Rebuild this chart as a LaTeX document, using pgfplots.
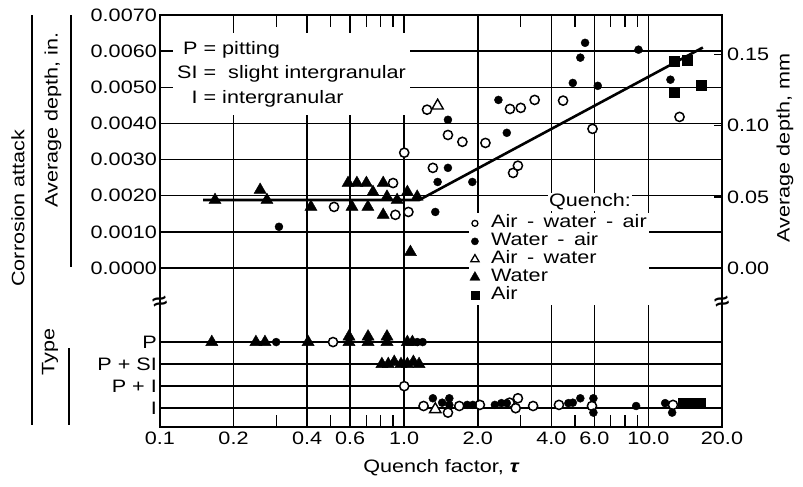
\documentclass[border=0pt]{standalone}
\usepackage{fontspec}
\setmainfont{Liberation Sans}[FakeStretch=1.2]
\usepackage{pgfplots}
\pgfplotsset{compat=1.18}

% marker styles for the five quench sequences
\pgfplotsset{
  awa/.style={only marks, mark=*, mark size=4.6pt, mark options={fill=white, draw=black, line width=1.5pt}},
  wa/.style={only marks, mark=*, mark size=4pt, mark options={fill=black, draw=black}},
  aw/.style={only marks, mark=triangle*, mark size=6.5pt, mark options={fill=white, draw=black, line width=1.4pt}},
  wat/.style={only marks, mark=triangle*, mark size=7pt, mark options={fill=black, draw=black}},
  air/.style={only marks, mark=square*, mark size=5pt, mark options={fill=black, draw=black}},
  % one centred mark in a cell of fixed width
  keymark/.style={legend image code/.code={\path (-5pt,0pt) (5pt,0pt); \draw[##1] plot coordinates {(0pt,0pt)};}},
  % lower panel: type index t (0 = P, 1 = P + SI, 2 = P + I, 3 = I) mapped to its row
  table/typerow/.style={x=tau, y expr={-0.00205-0.00061*\thisrow{t}}},
}
% dash with wide spacing, as in the key
\newcommand\dsh{\hspace{3.5pt} - \hspace{3.5pt}}

\begin{document}
\begin{tikzpicture}[font=\fontsize{18}{22}\selectfont]
\useasboundingbox (-160pt,-60pt) rectangle (643pt,427pt);
\begin{axis}[
  scale only axis, width=562pt, height=412pt,
  xmode=log, xmin=0.1, xmax=20, ymin=-0.0044, ymax=0.0070,
  clip=false, scaled ticks=false,
  axis line style={line width=1.8pt},
  xtick={0.1,0.2,0.4,0.6,1,2,4,6,10,20},
  xticklabels={0.1,0.2,0.4,0.6,1.0,2.0,4.0,6.0,10.0,20.0},
  minor xtick={0.3,0.5,0.7,0.8,0.9,3,5,7,8,9},
  ytick={-0.00388,-0.00327,-0.00266,-0.00205,0,0.001,0.002,0.003,0.004,0.005,0.006,0.007},
  yticklabels={I,P + I,P + SI,P,0.0000,0.0010,0.0020,0.0030,0.0040,0.0050,0.0060,0.0070},
  grid=major,
  grid style={line width=1.5pt, black},
  major tick length=0pt, minor tick length=12pt,
  tick align=inside, tick pos=both,
  minor tick style={line width=1.4pt, black},
  yticklabel style={inner xsep=3pt},
  xticklabel style={inner ysep=5pt},
  legend style={at={(0.549,0.519)}, anchor=north west, draw=none, fill=white,
    inner sep=1pt, row sep=0pt, column sep=10pt, legend cell align=left,
    font=\fontsize{18}{22}\selectfont,
    nodes={inner sep=1pt, text height=12.5pt, text depth=3.5pt}},
]

% trend of average depth
\addplot[line width=2.6pt, no marks, forget plot] coordinates {(0.15,0.00188) (1.15,0.00188) (16.7,0.0061)};

% ---------------- average depth, in. ----------------
\addplot[awa, forget plot] table[x=tau, y=d] {
tau d
0.516 0.00169
0.90 0.00235
0.92 0.00147
1.00 0.00319
1.04 0.00155
1.24 0.00438
1.31 0.00277
1.51 0.00368
1.73 0.00349
2.15 0.00346
2.71 0.00440
2.79 0.00263
2.92 0.00283
3.00 0.00443
3.42 0.00465
4.47 0.00463
5.90 0.00385
13.4 0.00418
};
\addplot[wa, forget plot] table[x=tau, y=d] {
tau d
0.307 0.00114
1.34 0.00155
1.37 0.00238
1.51 0.00410
1.51 0.00277
1.90 0.00238
2.43 0.00465
2.63 0.00374
4.90 0.00512
5.26 0.00582
5.50 0.00623
6.20 0.00504
9.10 0.00604
12.3 0.00521
};
\addplot[aw, forget plot] table[x=tau, y=d] {
tau d
1.37 0.00449
};
\addplot[wat, forget plot] table[x=tau, y=d] {
tau d
0.168 0.00188
0.257 0.00216
0.274 0.00188
0.415 0.00169
0.589 0.00235
0.611 0.00169
0.640 0.00235
0.700 0.00235
0.710 0.00169
0.745 0.00210
0.820 0.00235
0.820 0.00147
0.850 0.00197
0.935 0.00188
1.03 0.00210
1.13 0.00197
1.06 0.00044
};
\addplot[air, forget plot] table[x=tau, y=d] {
tau d
12.7 0.00573
14.4 0.00576
12.7 0.00485
16.5 0.00507
};

% ---------------- type of attack ----------------
\addplot[awa, forget plot] table[typerow] {
tau t
0.511 0
1.00 2
1.20 2.9
1.51 3.2
1.68 2.9
2.04 2.85
2.70 2.75
2.86 3.0
2.92 2.55
3.37 2.9
4.30 2.85
5.87 2.9
12.6 2.85
};
\addplot[wa, forget plot] table[typerow] {
tau t
0.299 0
1.13 0
1.19 0
1.31 2.55
1.43 2.75
1.53 2.55
1.53 2.85
1.81 2.85
1.91 2.85
2.35 2.85
2.50 2.77
2.63 2.77
4.70 2.77
4.90 2.75
5.26 2.55
5.95 2.55
5.95 3.2
8.90 2.9
11.7 2.77
12.5 3.2
};
\addplot[aw, forget plot] table[typerow] {
tau t
1.34 3.05
};
\addplot[wat, forget plot] table[typerow] {
tau t
0.163 0
0.247 0
0.269 0
0.404 0
0.594 0
0.594 -0.25
0.711 0
0.711 -0.25
0.85 0
0.85 -0.25
1.03 0
1.08 0
0.81 1
0.86 1
0.91 0.9
0.97 1
1.03 1
1.09 0.9
1.15 1
};
\addplot[air, forget plot] table[typerow] {
tau t
13.9 2.77
14.9 2.77
16.3 2.77
};

% legend of quench sequences
\addlegendimage{only marks, mark=*, mark size=3pt, mark options={fill=white, draw=black, line width=1.3pt}, keymark}
\addlegendentry{Air\dsh water\dsh air}
\addlegendimage{only marks, mark=*, mark size=3.6pt, mark options={fill=black, draw=black}, keymark}
\addlegendentry{Water\dsh air}
\addlegendimage{only marks, mark=triangle*, mark size=4.8pt, mark options={fill=white, draw=black, line width=1.3pt}, keymark}
\addlegendentry{Air\dsh water}
\addlegendimage{only marks, mark=triangle*, mark size=5.8pt, mark options={fill=black, draw=black}, keymark}
\addlegendentry{Water}
\addlegendimage{only marks, mark=square*, mark size=3.8pt, mark options={fill=black, draw=black}, keymark}
\addlegendentry{Air}
\end{axis}

% millimetre scale on the right
\begin{axis}[
  scale only axis, width=562pt, height=412pt,
  xmode=log, xmin=0.1, xmax=20, ymin=-0.11176, ymax=0.1778,
  scaled ticks=false,
  axis x line=none, axis y line*=right,
  axis line style={line width=1.8pt},
  ytick={0,0.05,0.10,0.15},
  yticklabels={0.00,0.05,0.10,0.15},
  major tick length=8pt, tick align=inside,
  major tick style={line width=1.4pt, black},
  yticklabel style={inner xsep=3pt, xshift=2pt},
]
\addplot[draw=none, forget plot] coordinates {(1,0)};
\end{axis}

% key to the attack types
\node[fill=white, inner sep=4pt, anchor=north west, font=\fontsize{18}{24.5}\selectfont] at (13pt,394pt)
  {\begin{tabular}{@{}r@{ = }l@{}}P & pitting\\ SI & \ slight intergranular\\ I & intergranular\end{tabular}};
\node[fill=white, inner sep=1pt] at (430pt,225pt) {Quench:};

% scale breaks
\node[font=\fontsize{22}{22}\selectfont\bfseries, inner sep=0pt, rotate=15] at (0pt,124pt) {≈};
\node[font=\fontsize{22}{22}\selectfont\bfseries, inner sep=0pt, rotate=15] at (562pt,124pt) {≈};

% axis titles
\node at (281pt,-41pt) {Quench factor, {\bfseries\itshape τ}};
\node[rotate=90] at (-142pt,219pt) {Corrosion attack};
\draw[line width=1.2pt] (-128pt,2pt) -- (-128pt,412pt);
\node[rotate=90] at (-107pt,307pt) {Average depth, in.};
\draw[line width=1.2pt] (-89pt,160pt) -- (-89pt,412pt);
\node[rotate=90] at (-110pt,75pt) {Type};
\draw[line width=1.2pt] (-91pt,2pt) -- (-91pt,79pt);
\node[rotate=90] at (625pt,279pt) {Average depth, mm};
\end{tikzpicture}
\end{document}
